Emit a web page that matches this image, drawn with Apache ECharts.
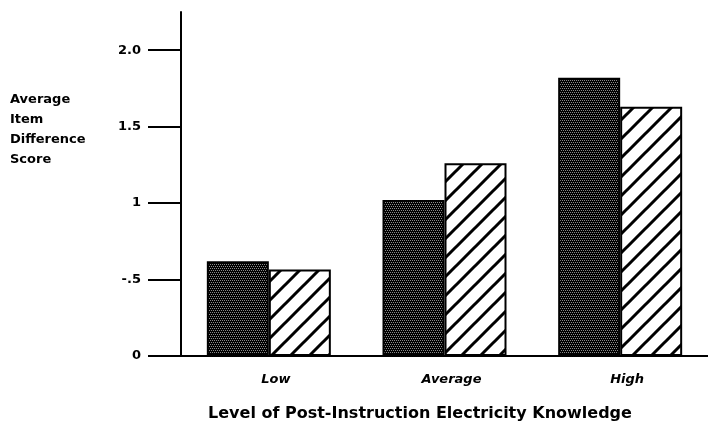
<!DOCTYPE html>
<html>
<head>
<meta charset="utf-8">
<script src="https://cdn.jsdelivr.net/npm/echarts@6/dist/echarts.min.js"></script>
<style>
  html, body { margin: 0; padding: 0; background: #fff; }
  #chart { width: 708px; height: 448px; }
</style>
</head>
<body>
<div id="chart"></div>
<script>
// data
const categories = ['Low', 'Average', 'High'];
const stippledValues = [0.62, 1.02, 1.82];
const hatchedValues = [0.565, 1.26, 1.63];
const tickValues = [0, 0.5, 1, 1.5, 2];
const tickLabels = ['0', '-.5', '1', '1.5', '2.0'];
const yTitleLines = ['Average', 'Item', 'Difference', 'Score'];
const xTitle = 'Level of Post-Instruction Electricity Knowledge';

const FONT = '"DejaVu Sans", "Liberation Sans", sans-serif';

// stipple texture for the dark bars
function makeStipple() {
    const c = document.createElement('canvas');
    c.width = 4; c.height = 4;
    const ctx = c.getContext('2d');
    ctx.fillStyle = '#000';
    ctx.fillRect(0, 0, 4, 4);
    ctx.fillStyle = '#8a8a8a';
    [[0, 0], [2, 0], [1, 2], [3, 2]].forEach(([x, y]) => ctx.fillRect(x, y, 1, 1));
    return c;
}

// diagonal "/" hatching for the light bars
function makeHatch() {
    const s = 19;
    const c = document.createElement('canvas');
    c.width = s; c.height = s;
    const ctx = c.getContext('2d');
    ctx.fillStyle = '#fff';
    ctx.fillRect(0, 0, s, s);
    ctx.strokeStyle = '#000';
    ctx.lineWidth = 3;
    ctx.beginPath();
    ctx.moveTo(-2, s + 2); ctx.lineTo(s + 2, -2);
    ctx.moveTo(-2, 2); ctx.lineTo(2, -2);
    ctx.moveTo(s - 2, s + 2); ctx.lineTo(s + 2, s - 2);
    ctx.stroke();
    return c;
}

const chart = echarts.init(document.getElementById('chart'), null, { renderer: 'canvas' });

chart.setOption({
    backgroundColor: '#fff',
    animation: false,
    grid: { left: 181, right: -12, top: 12, bottom: 92, containLabel: false },
    xAxis: {
        type: 'category',
        data: categories,
        axisLine: { lineStyle: { color: '#000', width: 2 } },
        axisTick: { show: false },
        axisLabel: {
            margin: 17,
            color: '#000',
            fontFamily: FONT,
            fontStyle: 'italic',
            fontWeight: 'bold',
            fontSize: 13,
            padding: [0, 0, 0, 14],
        },
    },
    yAxis: {
        type: 'value',
        min: 0,
        max: 2.25,
        splitLine: { show: false },
        axisLine: { show: true, lineStyle: { color: '#000', width: 2 } },
        axisTick: {
            show: true,
            customValues: tickValues,
            length: 33,
            lineStyle: { color: '#000', width: 2 },
        },
        axisLabel: {
            customValues: tickValues,
            margin: 40,
            color: '#000',
            fontFamily: FONT,
            fontWeight: 'bold',
            fontSize: 13,
            padding: [0, 0, 9, 0],
            formatter: (v) => {
                const i = tickValues.indexOf(v);
                return i >= 0 ? tickLabels[i] : '';
            },
        },
    },
    graphic: [
        {
            type: 'text',
            x: 10,
            y: 90,
            style: {
                text: yTitleLines.join('\n'),
                fill: '#000',
                font: 'bold 13px ' + FONT,
                lineHeight: 20,
            },
        },
        {
            type: 'text',
            x: 420,
            y: 406,
            style: {
                text: xTitle,
                fill: '#000',
                font: 'bold 16px ' + FONT,
                align: 'center',
            },
        },
    ],
    series: [
        {
            name: 'Stippled',
            type: 'bar',
            data: stippledValues,
            barWidth: 62,
            barGap: '0%',
            itemStyle: {
                color: { image: makeStipple(), repeat: 'repeat' },
                borderColor: '#000',
                borderWidth: 2,
            },
        },
        {
            name: 'Hatched',
            type: 'bar',
            data: hatchedValues,
            barWidth: 62,
            barGap: '0%',
            itemStyle: {
                color: { image: makeHatch(), repeat: 'repeat' },
                borderColor: '#000',
                borderWidth: 2,
            },
        },
    ],
});
</script>
</body>
</html>
